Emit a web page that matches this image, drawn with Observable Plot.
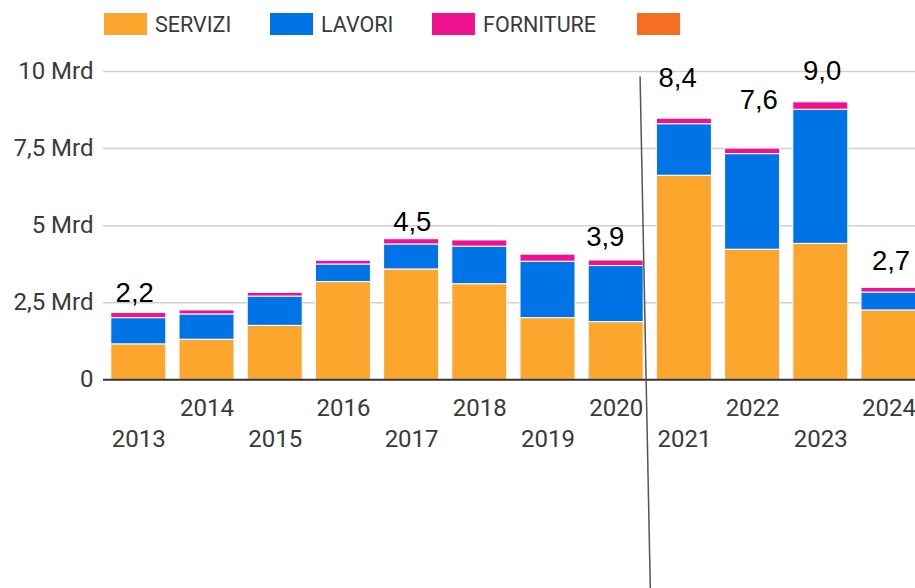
<!DOCTYPE html>
<html>
<head>
<meta charset="utf-8">
<script src="https://cdn.jsdelivr.net/npm/d3@7"></script>
<script src="https://cdn.jsdelivr.net/npm/@observablehq/plot@0.6"></script>
<style>
  html, body { margin: 0; padding: 0; background: #fff; overflow: hidden; }
  #legend { position: relative; height: 50px; font-family: Roboto, sans-serif; font-size: 21.5px; color: #3a3a3a; }
  .item { position: absolute; top: 13px; display: flex; align-items: center; height: 22px; }
  .sw { width: 43px; height: 22px; margin-right: 8px; }
  #chart svg { display: block; }
</style>
</head>
<body>
<div id="legend"></div>
<div id="chart"></div>
<script>
// ---- data ----
const years = [2013, 2014, 2015, 2016, 2017, 2018, 2019, 2020, 2021, 2022, 2023, 2024];
const servizi = [1.15, 1.30, 1.75, 3.17, 3.58, 3.10, 2.00, 1.87, 6.62, 4.22, 4.41, 2.25];
const lavori = [0.85, 0.82, 0.95, 0.57, 0.81, 1.22, 1.83, 1.82, 1.67, 3.10, 4.35, 0.58];
const forniture = [0.17, 0.13, 0.12, 0.12, 0.17, 0.20, 0.23, 0.18, 0.18, 0.18, 0.24, 0.15];
const seriesNames = ["SERVIZI", "LAVORI", "FORNITURE", ""];
const seriesColors = ["#fca62e", "#0073e6", "#ee1290", "#f46e24"];

const yTicks = [0, 2.5, 5, 7.5, 10];
const yTickLabels = ["0", "2,5 Mrd", "5 Mrd", "7,5 Mrd", "10 Mrd"];

// total annotations (text, anchor x in years, anchor y in Mrd)
const labelText = ["2,2", "4,5", "3,9", "8,4", "7,6", "9,0", "2,7"];
const labelX = [2012.94, 2017.01, 2019.84, 2020.90, 2022.09, 2023.02, 2024.03];
const labelY = [2.82, 5.10, 4.62, 9.77, 9.06, 10.0, 3.84];

// hand-drawn divider line (x in years, y in Mrd)
const dividerX = [2020.35, 2020.5];
const dividerY = [9.84, -6.77];

// ---- legend ----
const legendLeft = [104, 270, 432, 637];
const legend = document.getElementById("legend");
seriesNames.forEach((name, i) => {
  const it = document.createElement("div");
  it.className = "item";
  it.style.left = legendLeft[i] + "px";
  const sw = document.createElement("div");
  sw.className = "sw";
  sw.style.background = seriesColors[i];
  it.appendChild(sw);
  if (name) {
    const t = document.createElement("span");
    t.textContent = name;
    it.appendChild(t);
  }
  legend.appendChild(it);
});

// ---- build stacked rows ----
const seriesVals = [servizi, lavori, forniture];
const rows = [];
years.forEach((yr, i) => {
  let base = 0;
  seriesVals.forEach((vals, s) => {
    rows.push({year: yr, series: seriesNames[s], y1: base, y2: base + vals[i]});
    base += vals[i];
  });
});
const labels = labelText.map((t, i) => ({text: t, x: labelX[i], y: labelY[i]}));
const divider = [{x1: dividerX[0], y1: dividerY[0], x2: dividerX[1], y2: dividerY[1]}];

const chart = Plot.plot({
  width: 915,
  height: 538,
  marginLeft: 103,
  marginRight: 0,
  marginTop: 21,
  marginBottom: 209,
  style: {fontFamily: "Roboto, sans-serif", fontSize: "24px", color: "#3a3a3a", overflow: "hidden"},
  x: {type: "linear", domain: [2012.5, 2024.5], range: [104.2, 922.6]},
  y: {domain: [0, 10], range: [329.3, 21]},
  color: {domain: seriesNames.slice(0, 3), range: seriesColors.slice(0, 3)},
  marks: [
    Plot.ruleY(yTicks.filter(d => d > 0), {stroke: "#d0d0d0", strokeWidth: 1.5}),
    Plot.rectY(rows, {
      x1: d => d.year - 0.5, x2: d => d.year + 0.5,
      y1: "y1", y2: "y2", fill: "series",
      insetLeft: 6.6, insetRight: 6.6,
      stroke: "white", strokeWidth: 1
    }),
    Plot.ruleY([0], {stroke: "#333", strokeWidth: 2}),
    Plot.axisY(yTicks, {
      tickSize: 0, tickPadding: 10,
      tickFormat: d => yTickLabels[yTicks.indexOf(d)],
      fill: "#3a3a3a", fontSize: 24
    }),
    Plot.axisX(years.filter(y => y % 2 === 0), {
      tickSize: 0, tickPadding: 19, tickFormat: d => String(d), fill: "#3a3a3a", fontSize: 24
    }),
    Plot.axisX(years.filter(y => y % 2 === 1), {
      tickSize: 0, tickPadding: 50, tickFormat: d => String(d), fill: "#3a3a3a", fontSize: 24
    }),
    Plot.text(labels, {
      x: "x", y: "y", text: "text", fill: "#000", fontSize: 27.5,
      fontFamily: "'Liberation Sans', Arial, sans-serif", lineAnchor: "middle"
    }),
    Plot.link(divider, {x1: "x1", y1: "y1", x2: "x2", y2: "y2", stroke: "#555", strokeWidth: 1.5})
  ]
});
document.getElementById("chart").appendChild(chart);
</script>
</body>
</html>
